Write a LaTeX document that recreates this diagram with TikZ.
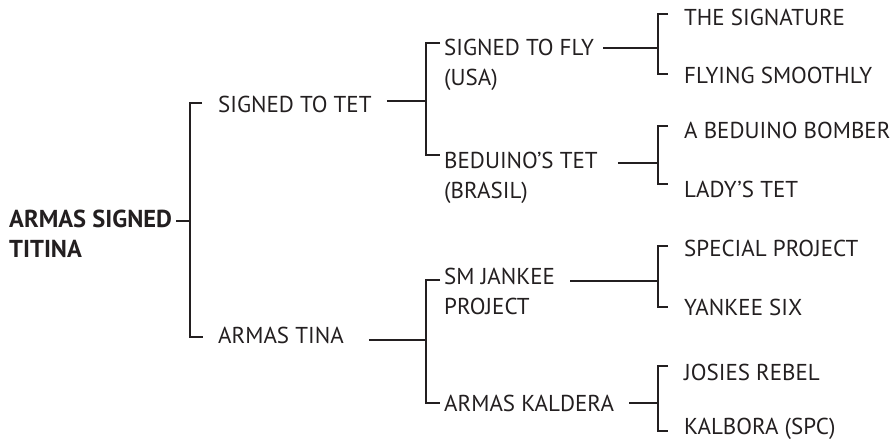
\documentclass[tikz,border=0pt]{standalone}
\usepackage{fontspec}
\setmainfont{PT Sans}
\usetikzlibrary{positioning}
\definecolor{ink}{HTML}{231F20}

\begin{document}
\begin{tikzpicture}[x=1pt, y=-1pt,
	entry/.style={anchor=base west, inner sep=0, align=left, text=ink, font=\fontsize{23}{30}\selectfont},
	link/.style={ink, line width=1.7pt}]
	\useasboundingbox (0,0) rectangle (895,441);
	\node[entry, font=\bfseries\fontsize{24.5}{30}\selectfont] (root) at (9,258) {ARMAS SIGNED\\TITINA};
	\node[entry] (tet)  at (218,113) {SIGNED TO TET};
	\node[entry] (tina) at (218,343) {ARMAS TINA};
	\node[entry] (fly)  at (444,86)  {SIGNED TO FLY\\(USA)};
	\node[entry] (bed)  at (444,199) {BEDUINO'S TET\\(BRASIL)};
	\node[entry] (sm)   at (444,314) {SM JANKEE\\PROJECT};
	\node[entry] (kal)  at (444,411) {ARMAS KALDERA};
	\node[entry] (sig)  at (684,26)  {THE SIGNATURE};
	\node[entry] (smo)  at (684,84)  {FLYING SMOOTHLY};
	\node[entry] (bom)  at (684,139) {A BEDUINO BOMBER};
	\node[entry] (lady) at (684,197) {LADY'S TET};
	\node[entry] (spe)  at (684,256) {SPECIAL PROJECT};
	\node[entry] (yan)  at (684,315) {YANKEE SIX};
	\node[entry] (jos)  at (684,380) {JOSIES REBEL};
	\node[entry] (kalb) at (684,434) {KALBORA (SPC)};
	\coordinate (j0)  at (190,221);
	\coordinate (j1)  at (426,101);
	\coordinate (j2)  at (426,340);
	\coordinate (j11) at (658,48);
	\coordinate (j12) at (658,163);
	\coordinate (j21) at (658,281);
	\coordinate (j22) at (658,403);
	\draw[link] ([xshift=4pt,yshift=37pt]root.base east) -- (j0);
	\draw[link] ([xshift=-16pt,yshift=10pt]tet.base west) -| (j0) |- ([xshift=-15pt,yshift=6pt]tina.base west);
	\draw[link] ([xshift=15pt,yshift=12pt]tet.base east) -- (j1);
	\draw[link] ([xshift=-4pt,yshift=43pt]fly.base west) -| (j1) |- ([xshift=-4pt,yshift=44pt]bed.base west);
	\draw[link] ([xshift=25pt,yshift=3pt]tina.base east) -- (j2);
	\draw[link] ([xshift=-4pt,yshift=34pt]sm.base west) -| (j2) |- ([xshift=-4pt,yshift=8pt]kal.base west);
	\draw[link] ([xshift=9pt,yshift=38pt]fly.base east) -- (j11);
	\draw[link] ([xshift=-16pt,yshift=12pt]sig.base west) -| (j11) |- ([xshift=-16pt,yshift=10pt]smo.base west);
	\draw[link] ([xshift=20pt,yshift=36pt]bed.base east) -- (j12);
	\draw[link] ([xshift=-16pt,yshift=13pt]bom.base west) -| (j12) |- ([xshift=-16pt,yshift=13pt]lady.base west);
	\draw[link] ([xshift=15pt,yshift=33pt]sm.base east) -- (j21);
	\draw[link] ([xshift=-16pt,yshift=10pt]spe.base west) -| (j21) |- ([xshift=-16pt,yshift=8pt]yan.base west);
	\draw[link] ([xshift=15pt,yshift=8pt]kal.base east) -- (j22);
	\draw[link] ([xshift=-16pt,yshift=14pt]jos.base west) -| (j22) |- ([xshift=-16pt,yshift=3pt]kalb.base west);
\end{tikzpicture}
\end{document}
